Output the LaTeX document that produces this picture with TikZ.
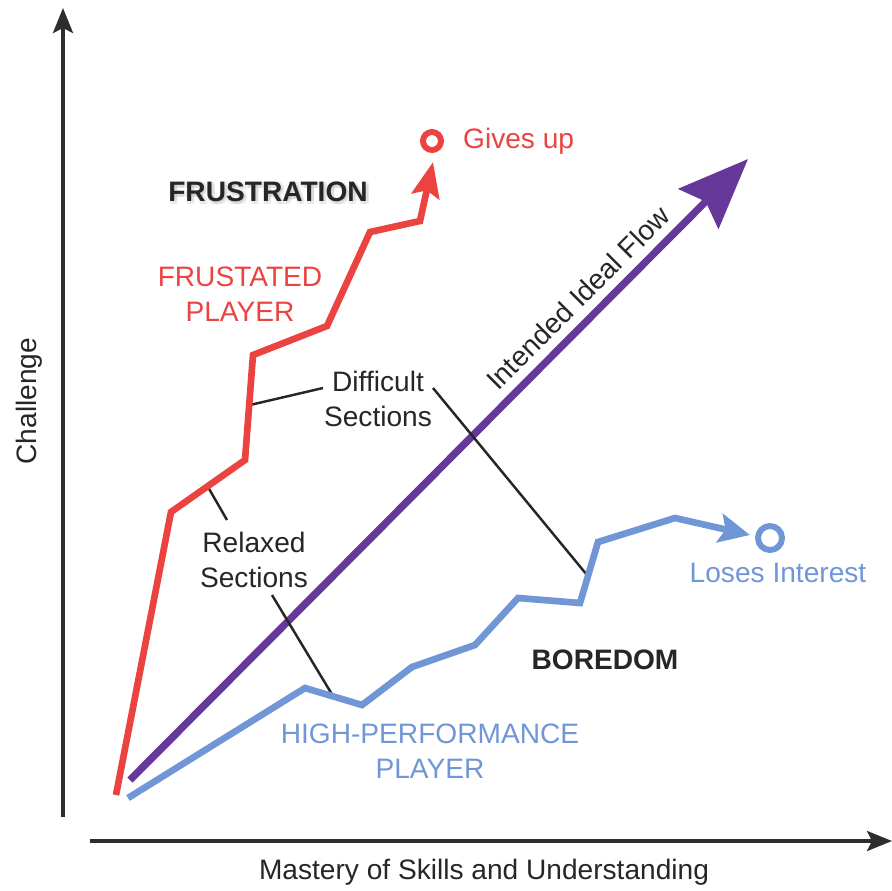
\documentclass[tikz,border=0pt]{standalone}
\usepackage{fontspec}
\setmainfont{Liberation Sans}
\usetikzlibrary{arrows.meta, positioning}

\definecolor{frustred}{RGB}{234,67,64}
\definecolor{flowpurple}{RGB}{102,56,154}
\definecolor{boredblue}{RGB}{112,150,214}
\definecolor{axisgray}{RGB}{45,45,45}

\begin{document}
\begin{tikzpicture}[x=0.02cm, y=-0.02cm,
      axis/.style={draw=axisgray, line width=2pt, -{Stealth[length=0.5cm, width=0.4cm, inset=0.1cm]}},
      lbl/.style={font=\fontsize{16}{20}\selectfont, align=center, text=black!85},
      zone/.style={font=\fontsize{16}{20}\selectfont\bfseries, text=black!85},
      redpath/.style={draw=frustred, line width=3.8pt, -{Stealth[length=0.7cm, width=0.56cm, inset=0.12cm]}},
      bluepath/.style={draw=boredblue, line width=3.8pt, -{Stealth[length=0.62cm, width=0.58cm, inset=0.12cm]}},
      lead/.style={draw=black!85, line width=1.4pt},
      endring/.style={circle, line width=3.4pt, inner sep=0pt}
    ]
      \useasboundingbox (0,0) rectangle (892,890);

      % Axes
      \coordinate (origin) at (63,817);
      \coordinate (ytop) at (63,8);
      \coordinate (xstart) at (90,841);
      \coordinate (xend) at (892,841);
      \draw[axis] (origin) -- (ytop);
      \draw[axis] (xstart) -- (xend);
      \node[lbl, rotate=90] (ylab) at (29,401) {Challenge};
      \node[lbl] (xlab) at (484,872) {Mastery of Skills and Understanding};

      % Intended flow
      \coordinate (f0) at (130,780);
      \coordinate (f1) at (748,159);
      \draw[flowpurple, line width=4.2pt, -{Stealth[length=1.4cm, width=1.12cm, inset=0.2cm]}] (f0) -- (f1);
      \node[lbl, rotate=45] (flow) at (578,298) {Intended Ideal Flow};

      % Leader lines
      \coordinate (d0) at (250,405);
      \coordinate (d1) at (323,388);
      \coordinate (d2) at (433,388);
      \coordinate (d3) at (587,575);
      \coordinate (rl0) at (208,487);
      \coordinate (rl1) at (227,520);
      \coordinate (rl2) at (272,595);
      \coordinate (rl3) at (333,696);
      \draw[lead] (d0) -- (d1);
      \draw[lead] (d2) -- (d3);
      \draw[lead] (rl0) -- (rl1);
      \draw[lead] (rl2) -- (rl3);

      % Frustrated player
      \coordinate (r0) at (116,795);
      \coordinate (r1) at (171,512);
      \coordinate (r2) at (245,460);
      \coordinate (r3) at (253,355);
      \coordinate (r4) at (327,326);
      \coordinate (r5) at (370,232);
      \coordinate (r6) at (420,221);
      \coordinate (r7) at (433,162);
      \draw[redpath] (r0) -- (r1) -- (r2) -- (r3) -- (r4) -- (r5) -- (r6) -- (r7);
      \node[endring, draw=frustred, minimum size=0.36cm] (giveup) at (432,141) {};
      \node[lbl, text=frustred, right=0.26cm of giveup] (giveuplab) {Gives up};

      % High-performance player
      \coordinate (b0) at (128,798);
      \coordinate (b1) at (305,688);
      \coordinate (b2) at (362,705);
      \coordinate (b3) at (412,667);
      \coordinate (b4) at (475,645);
      \coordinate (b5) at (518,598);
      \coordinate (b6) at (580,603);
      \coordinate (b7) at (598,542);
      \coordinate (b8) at (675,518);
      \coordinate (b9) at (750,535);
      \draw[bluepath] (b0) -- (b1) -- (b2) -- (b3) -- (b4) -- (b5) -- (b6) -- (b7) -- (b8) -- (b9);
      \node[endring, draw=boredblue, minimum size=0.48cm] (bored) at (770,538) {};
      \node[lbl, text=boredblue] (boredlab) at (778,573) {Loses Interest};

      % Zone and player labels (soft shadow under FRUSTRATION)
      \foreach \dx in {1,4}
        \foreach \dy in {2,5}
          \node[zone, text=black, opacity=0.07] (fshadow-\dx-\dy) at ({267+\dx},{190+\dy}) {FRUSTRATION};
      \node[zone] (frust) at (268,192) {FRUSTRATION};
      \node[zone] (bore) at (605,660) {BOREDOM};
      \node[lbl, text=frustred] (frustlab) at (240,294) {FRUSTATED\\PLAYER};
      \node[lbl, text=boredblue] (hplab) at (430,751) {HIGH-PERFORMANCE\\PLAYER};
      \node[lbl] (diff) at (378,399) {Difficult\\Sections};
      \node[lbl] (relax) at (254,560) {Relaxed\\Sections};
    \end{tikzpicture}
\end{document}
